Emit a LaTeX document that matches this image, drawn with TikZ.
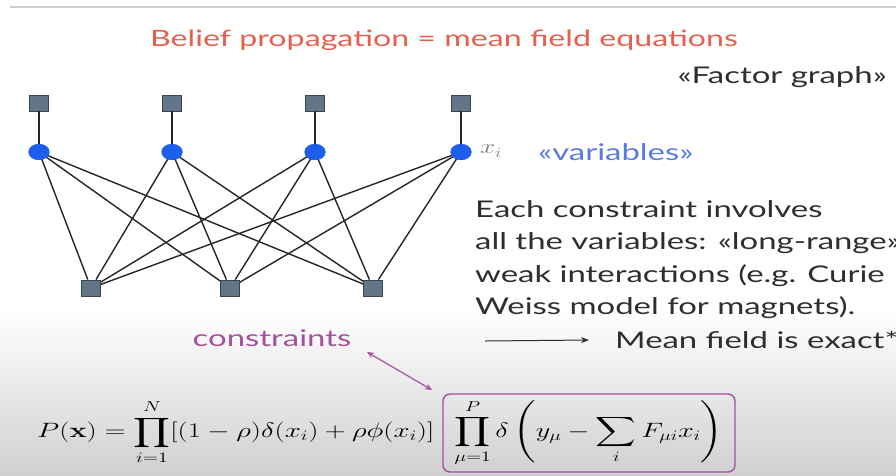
\documentclass[tikz,border=0pt]{standalone}
\usepackage[no-math]{fontspec}
\setmainfont{Lato}[FakeStretch=1.43]
\usepackage{amsmath}
\usepackage{graphicx}
\usetikzlibrary{arrows.meta,positioning,shapes.geometric,calc}
\definecolor{titlered}{HTML}{E5604F}
\definecolor{varblue}{HTML}{1E5EEA}
\definecolor{labelblue}{HTML}{5A7CE0}
\definecolor{factorgray}{HTML}{627688}
\definecolor{factoredge}{HTML}{39444F}
\definecolor{edgedark}{HTML}{262626}
\definecolor{textdark}{HTML}{2E2E2E}
\definecolor{consmauve}{HTML}{A4519E}
\definecolor{rulegray}{HTML}{CFCFCF}
\definecolor{bgbottom}{HTML}{D0D0D0}
\tikzset{
  >=Latex,
  factor/.style={rectangle, fill=factorgray, draw=factoredge, line width=0.8pt,
    minimum width=19pt, minimum height=16pt, inner sep=0pt},
  varnode/.style={ellipse, fill=varblue, draw=none,
    minimum width=21pt, minimum height=16pt, inner sep=0pt},
  link/.style={draw=edgedark, line width=1.4pt},
  title/.style={font=\fontsize{22.5}{28}\selectfont, text=titlered},
  body/.style={font=\fontsize{23}{32.5}\selectfont, text=textdark, align=left, inner sep=0pt},
  tag/.style={font=\fontsize{23}{28}\selectfont, inner sep=0pt},
  eq/.style={font=\fontsize{20}{24}\selectfont, text=black, inner sep=0pt},
  consbox/.style={rectangle, rounded corners=7pt, draw=consmauve, line width=1.4pt,
    minimum width=292pt, minimum height=78pt, inner sep=0pt, font=\fontsize{20}{24}\selectfont},
  duo/.style={{Stealth[length=7pt,width=6pt]}-{Stealth[length=7pt,width=6pt]},
    draw=consmauve, line width=1.2pt},
  arrow/.style={-{Stealth[length=8pt,width=6pt]}, draw=textdark, line width=1pt}
}

\begin{document}
\begin{tikzpicture}[x=1pt,y=-1pt]
\clip (0,0) rectangle (896,475);
\fill[white] (0,0) rectangle (896,475);
\shade[top color=white, bottom color=bgbottom] (0,310) rectangle (896,475);
\draw[rulegray, line width=1.5pt] (10,7) -- (896,7);
\node[title] (head) at (444,40) {Belief propagation = mean field equations};
\node[tag, text=textdark, anchor=east] (fg) at (887,77) {«Factor graph»};
\node[factor] (f1) at (39,103) {};
\node[factor] (f2) at (172,103) {};
\node[factor] (f3) at (315,103) {};
\node[factor] (f4) at (461,103) {};
\node[varnode] (v1) at (39,152) {};
\node[varnode] (v2) at (172,152) {};
\node[varnode] (v3) at (315,152) {};
\node[varnode] (v4) at (461,152) {};
\node[factor] (c1) at (91,288) {};
\node[factor] (c2) at (230,288) {};
\node[factor] (c3) at (373,288) {};
\draw[link] (f1) -- (v1) (f2) -- (v2) (f3) -- (v3) (f4) -- (v4);
\draw[link] (v1.center) -- (c1) (v2.center) -- (c1) (v3.center) -- (c1) (v4.center) -- (c1);
\draw[link] (v1.center) -- (c2) (v2.center) -- (c2) (v3.center) -- (c2) (v4.center) -- (c2);
\draw[link] (v1.center) -- (c3) (v2.center) -- (c3) (v3.center) -- (c3) (v4.center) -- (c3);
\node[varnode] at (v1) {};
\node[varnode] at (v2) {};
\node[varnode] at (v3) {};
\node[varnode] at (v4) {};
\node[eq, text=gray, anchor=west] (xi) at (480,151) {\scalebox{1.3}[1]{$x_i$}};
\node[tag, text=labelblue, anchor=west] (vars) at (538,152) {«variables»};
\node[body, anchor=north west] (note) at (475,200) {Each constraint involves\\
all the variables: «long-range»\\
weak interactions (e.g. Curie\\
Weiss model for magnets).};
\node[tag, text=textdark, anchor=west] (exact) at (615,340) {Mean field is exact*};
\coordinate (ex) at (485,341);
\draw[arrow] (ex) -- ([xshift=-26pt]exact.west);
\node[tag, text=consmauve] (cons) at (272,338) {constraints};
\node[eq, anchor=west] (prior) at (37,432)
  {\scalebox{1.39}[1]{$\displaystyle P(\mathbf{x}) = \prod_{i=1}^{N}[(1-\rho)\delta(x_i)+\rho\phi(x_i)]$}};
\node[consbox] (lik) at (589,433)
  {\scalebox{1.36}[1]{$\displaystyle \prod_{\mu=1}^{P}\delta\left(y_\mu-\sum_i F_{\mu i}x_i\right)$}\hspace{18pt}};
\coordinate (ca) at (367,352);
\coordinate (cb) at (432,390);
\draw[duo] (ca) -- (cb);
\end{tikzpicture}
\end{document}
